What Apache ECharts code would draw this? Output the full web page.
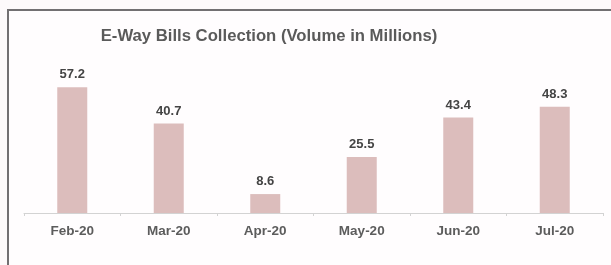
<!DOCTYPE html>
<html>
<head>
<meta charset="utf-8">
<script src="https://cdn.jsdelivr.net/npm/echarts@6/dist/echarts.min.js"></script>
<style>
html, body { margin: 0; padding: 0; background: #fdfafb; overflow: hidden; }
#frame {
    position: absolute; left: 7px; top: 9px; width: 620px; height: 280px;
    border-top: 2px solid #727072; border-left: 2px solid #727072;
    background: #fffdfe;
}
#chart { position: absolute; left: 0; top: 0; width: 611px; height: 265px; }
</style>
</head>
<body>
<div id="frame"></div>
<div id="chart"></div>
<script>
var months = ['Feb-20', 'Mar-20', 'Apr-20', 'May-20', 'Jun-20', 'Jul-20'];
var volumes = [57.2, 40.7, 8.6, 25.5, 43.4, 48.3];
var chartTitle = 'E-Way Bills Collection (Volume in Millions)';

function initEchart(myChart, option) {
    myChart.setOption(option);
    window.addEventListener('resize', function () {
        myChart.resize();
    });
}

var myChart = echarts.init(document.getElementById('chart'));
var option = {
    backgroundColor: 'transparent',
    title: {
        text: chartTitle,
        left: 264,
        textAlign: 'center',
        top: 23,
        textStyle: {
            fontFamily: 'Liberation Sans',
            fontSize: 16.7,
            fontWeight: 'bold',
            color: '#5a5a5a'
        }
    },
    grid: {
        left: 24,
        right: 8,
        top: 81,
        bottom: 52
    },
    xAxis: {
        type: 'category',
        data: months,
        axisLine: { lineStyle: { color: '#d3d3d3', width: 1 } },
        axisTick: { show: true, length: 3, lineStyle: { color: '#d3d3d3' } },
        axisLabel: {
            margin: 11,
            fontFamily: 'Liberation Sans',
            fontSize: 13.5,
            fontWeight: 'bold',
            color: '#5c5c5c'
        }
    },
    yAxis: {
        type: 'value',
        min: 0,
        max: 60,
        show: false
    },
    series: [
        {
            name: 'Volume',
            type: 'bar',
            data: volumes,
            barWidth: 30,
            itemStyle: { color: '#dcbdbc' },
            label: {
                show: true,
                position: 'top',
                distance: 6,
                fontFamily: 'Liberation Sans',
                fontSize: 13,
                fontWeight: 'bold',
                color: '#444444'
            }
        }
    ]
};
initEchart(myChart, option);
</script>
</body>
</html>
